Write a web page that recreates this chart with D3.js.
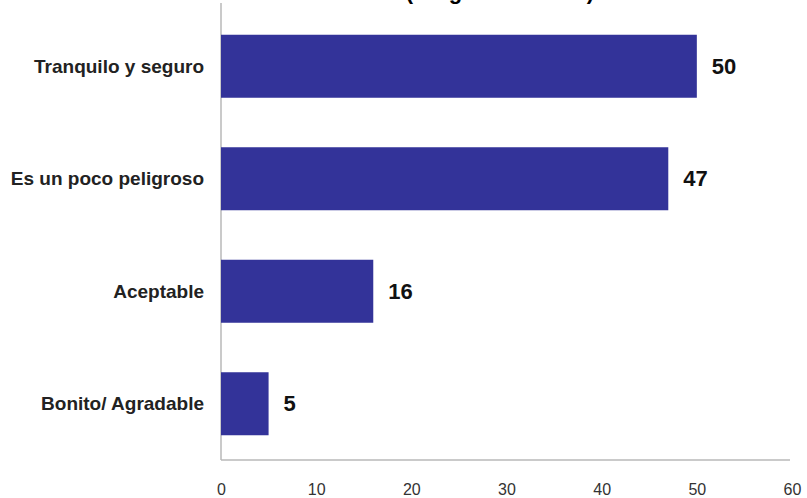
<!DOCTYPE html>
<html><head><meta charset="utf-8">
<script src="https://cdn.jsdelivr.net/npm/d3@7"></script>
<style>body{margin:0;background:#fff}svg{display:block}</style>
</head><body>
<script>
const categories = ["Tranquilo y seguro", "Es un poco peligroso", "Aceptable", "Bonito/ Agradable"];
const values = [50, 47, 16, 5];
const tickValues = [0, 10, 20, 30, 40, 50, 60];
const title = "(Pregunta abierta)";

const W = 807, H = 498;
const svg = d3.select("body").append("svg").attr("width", W).attr("height", H);

const x = d3.scaleLinear().domain([0, 60]).range([221, 792]);
const y = d3.scaleBand().domain(categories).range([10, 460]).paddingInner(0.44).paddingOuter(0.22);
const font = "Liberation Sans, Arial, sans-serif";

svg.append("text").attr("x", 500).attr("y", -1).attr("text-anchor", "middle")
  .attr("font-family", font).attr("font-weight", "bold")
  .attr("font-size", 22).attr("fill", "#000").text(title);

// axes lines
svg.append("line").attr("x1", 221).attr("x2", 221).attr("y1", 3).attr("y2", 460)
  .attr("stroke", "#b8b8b8").attr("stroke-width", 1.5);
svg.append("line").attr("x1", 221).attr("x2", 790).attr("y1", 460).attr("y2", 460)
  .attr("stroke", "#b8b8b8").attr("stroke-width", 1.5);

svg.selectAll("rect.bar").data(values).join("rect").attr("class", "bar")
  .attr("x", x(0)).attr("y", (d, i) => y(categories[i]))
  .attr("width", d => x(d) - x(0)).attr("height", y.bandwidth())
  .attr("fill", "#333399");

svg.selectAll("text.val").data(values).join("text").attr("class", "val")
  .attr("x", d => x(d) + 15).attr("y", (d, i) => y(categories[i]) + y.bandwidth() / 2)
  .attr("dy", "0.33em")
  .attr("font-family", font).attr("font-weight", "bold")
  .attr("font-size", 22).attr("fill", "#111").text(d => d);

svg.selectAll("text.cat").data(categories).join("text").attr("class", "cat")
  .attr("x", 204).attr("y", d => y(d) + y.bandwidth() / 2).attr("dy", "0.33em")
  .attr("text-anchor", "end")
  .attr("font-family", font).attr("font-weight", "bold")
  .attr("font-size", 19).attr("fill", "#222").text(d => d);

const axis = d3.axisBottom(x).tickValues(tickValues).tickSize(0).tickPadding(0);
const g = svg.append("g").attr("transform", "translate(0,484)").call(axis);
g.select(".domain").remove();
g.selectAll("text").attr("font-family", font)
  .attr("font-size", 16).attr("fill", "#333");
</script>
</body></html>
